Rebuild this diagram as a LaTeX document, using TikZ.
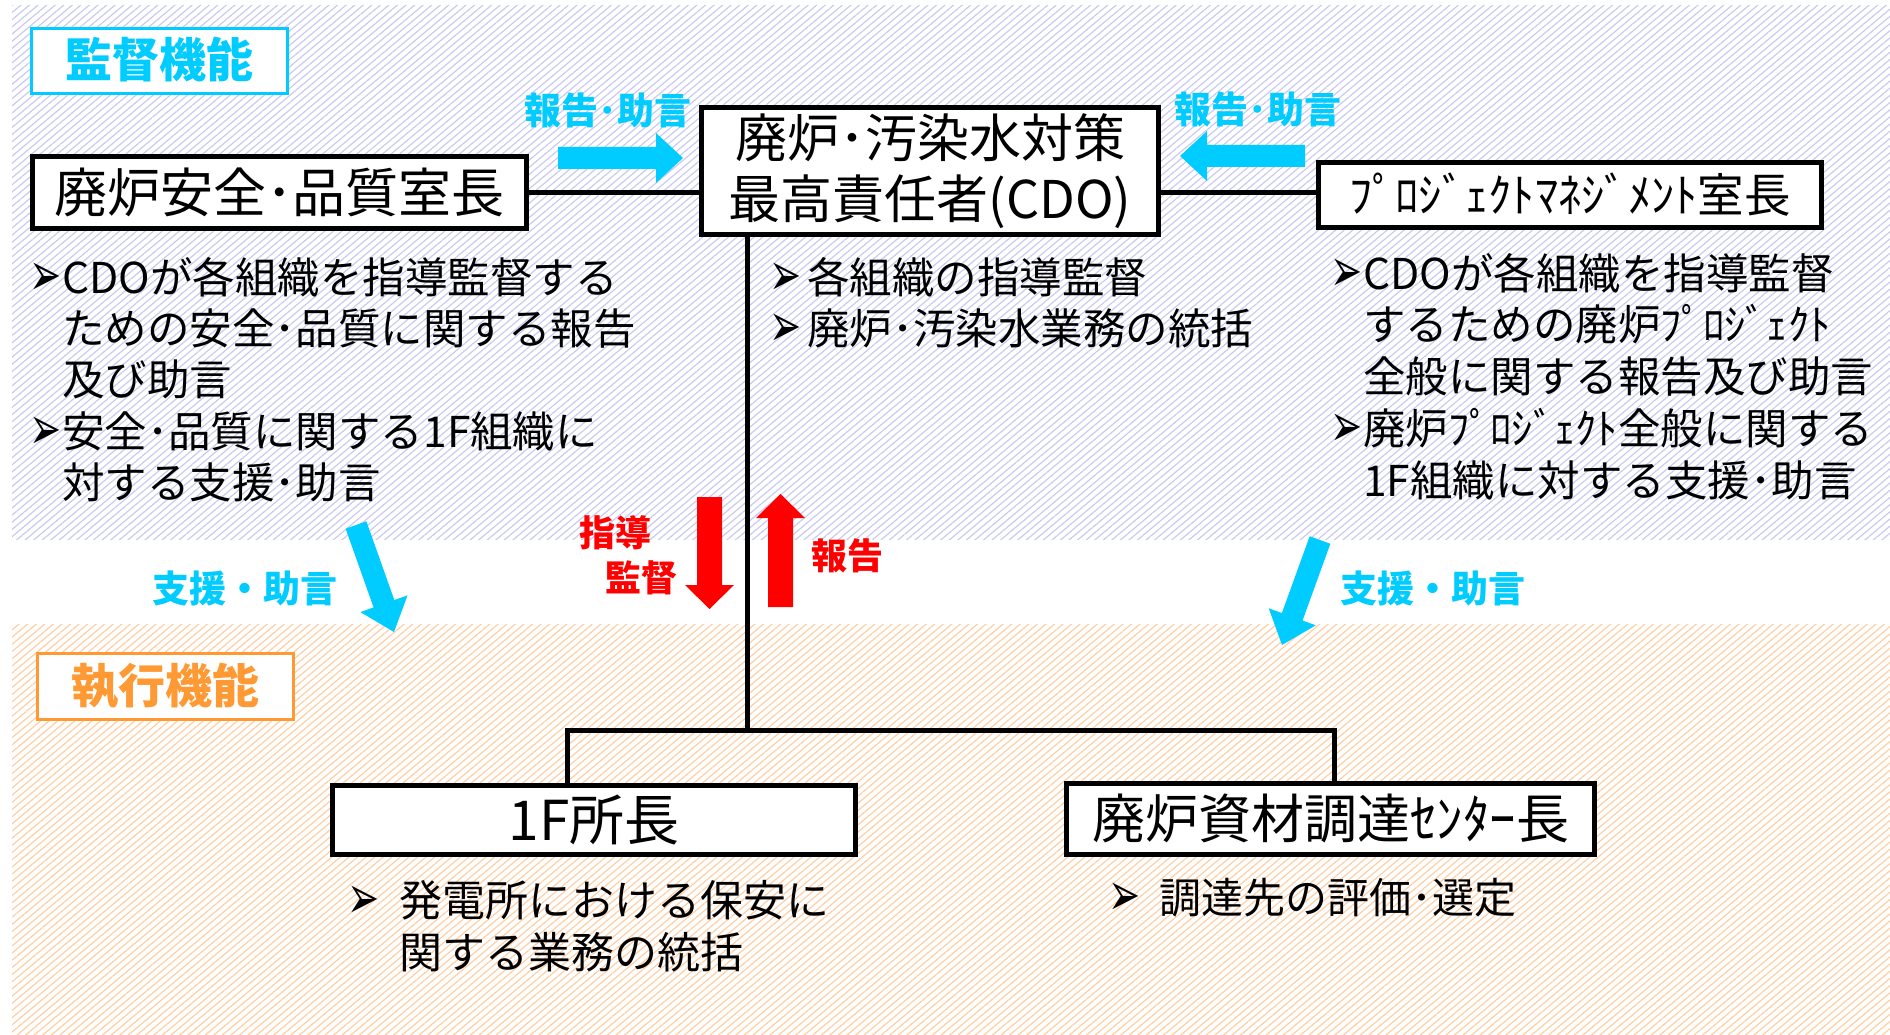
\documentclass[tikz,border=0pt]{standalone}
\usepackage{fontspec}
\setmainfont{Noto Sans CJK JP}
\newfontfamily\dejavu{DejaVu Sans}
\usetikzlibrary{patterns.meta}
\definecolor{cyanc}{RGB}{0,204,255}
\definecolor{orangec}{RGB}{255,153,51}
\definecolor{redc}{RGB}{255,0,0}
\definecolor{hatchb}{RGB}{200,200,242}
\definecolor{hatcho}{RGB}{255,205,160}
\newcommand\bmk[1][33pt]{\makebox[#1][l]{\raisebox{-2pt}{\scalebox{1.2}[1.9]{\dejavu\fontsize{32}{32}\selectfont ➢}}}}
\newcommand\bind[1][33pt]{\hspace*{#1}}
\tikzset{
  box/.style={draw, line width=5pt, fill=white, inner sep=0pt, align=center},
  headbox/.style={line width=3pt, fill=white, inner sep=0pt, minimum width=256, font=\bfseries\fontsize{47}{47}\selectfont},
  bullets/.style={anchor=north west, inner sep=0pt, align=left},
  lblc/.style={inner sep=0pt, text=cyanc, font=\bfseries\fontsize{37}{37}\selectfont},
  lblcs/.style={inner sep=0pt, text=cyanc, font=\bfseries\fontsize{37}{37}\selectfont},
  lblr/.style={inner sep=0pt, text=redc, font=\bfseries\fontsize{36}{36}\selectfont},
  conn/.style={line width=5pt, black},
}
\begin{document}
\begin{tikzpicture}[x=1pt,y=-1pt]
\useasboundingbox (0,0) rectangle (1890,1035);
\fill[white] (0,0) rectangle (1890,1035);
% hatched regions
\fill[pattern={Lines[angle=40,distance=5.5pt,line width=1.15pt]}, pattern color=hatchb] (12,6) rectangle (1890,539);
\fill[pattern={Lines[angle=40,distance=5.5pt,line width=1.15pt]}, pattern color=hatcho] (12,624) rectangle (1890,1035);

% cyan arrows
\fill[cyanc] (558,147) -- (656,147) -- (656,133) -- (683,158) -- (656,183) -- (656,169) -- (558,169) -- cycle;
\fill[cyanc] (1305,145) -- (1207,145) -- (1207,131) -- (1180,156) -- (1207,181) -- (1207,167) -- (1305,167) -- cycle;
\fill[cyanc] (345.63,528.68) -- (366.37,521.32) -- (394.33,600.04) -- (407.53,595.35) -- (394,632) -- (360.39,612.09) -- (373.59,607.40) -- cycle;
\fill[cyanc] (1330.34,543.74) -- (1309.66,536.26) -- (1281.87,613.06) -- (1268.71,608.30) -- (1282,645) -- (1315.71,625.31) -- (1302.55,620.54) -- cycle;
% red arrows
\fill[redc] (697,497) -- (722,497) -- (722,585) -- (734,585) -- (709.5,609) -- (685,585) -- (697,585) -- cycle;
\fill[redc] (768,607) -- (793,607) -- (793,518) -- (805,518) -- (780.5,494) -- (756,518) -- (768,518) -- cycle;

% boxes
\node[box, minimum width=494, minimum height=72, font=\fontsize{53}{60}\selectfont] (L) at (279.5,192.5) {廃炉安全･品質室長};
\node[box, minimum width=457, minimum height=127, font=\fontsize{52}{61}\selectfont] (CDO) at (930,171) {廃炉･汚染水対策\\最高責任者(CDO)};
\node[box, minimum width=503, minimum height=65, font=\fontsize{46.5}{56}\selectfont] (R) at (1570,195) {ﾌﾟﾛｼﾞｪｸﾄﾏﾈｼﾞﾒﾝﾄ室長};
\node[box, minimum width=523, minimum height=69, font=\fontsize{55}{60}\selectfont] (F1) at (594,820) {1F所長};
\node[box, minimum width=528, minimum height=71, font=\fontsize{53}{62}\selectfont] (P) at (1330.5,819) {廃炉資材調達ｾﾝﾀｰ長};

% connectors
\coordinate (jc) at (747,730);
\coordinate (jl) at (567,730);
\coordinate (jr) at (1334,730);
\draw[conn] (L.east) -- (L.east -| CDO.west);
\draw[conn] (CDO.east |- L.east) -- (R.west |- L.east);
\draw[conn] (CDO.south -| jc) -- (jc);
\draw[conn] (F1.north -| jl) -- (jl) -- (jr) -- (P.north -| jr);

% heading boxes
\node[headbox, draw=cyanc, text=cyanc, minimum height=65] (kan) at (159.5,61) {\raisebox{7pt}{監督機能}};
\node[headbox, draw=orangec, text=orangec, minimum height=66] (shi) at (165.5,686.5) {\raisebox{5pt}{執行機能}};

% labels
\node[lblc] (h1) at (608,110) {報告･助言};
\node[lblc] (h2) at (1258,109) {報告･助言};
\node[lblcs] (s1) at (245,588) {支援・助言};
\node[lblcs] (s2) at (1433,588) {支援・助言};
\node[lblr] (sd1) at (615,533) {指導};
\node[lblr] (sd2) at (641,578) {監督};
\node[lblr] (hk) at (847,556) {報告};

% bullet texts
\node[bullets, font=\fontsize{42.5}{51.3}\selectfont] (bl) at (29,257) {\bmk CDOが各組織を指導監督する\\\bind ための安全･品質に関する報告\\\bind 及び助言\\\bmk 安全･品質に関する1F組織に\\\bind 対する支援･助言};
\node[bullets, font=\fontsize{42.5}{51.3}\selectfont] (bm) at (769,257) {\bmk[38pt]各組織の指導監督\\\bmk[38pt]廃炉･汚染水業務の統括};
\node[bullets, font=\fontsize{42.5}{51.7}\selectfont] (br) at (1330,253) {\bmk CDOが各組織を指導監督\\\bind するための廃炉ﾌﾟﾛｼﾞｪｸﾄ\\\bind 全般に関する報告及び助言\\\bmk 廃炉ﾌﾟﾛｼﾞｪｸﾄ全般に関する\\\bind 1F組織に対する支援･助言};
\node[bullets, font=\fontsize{43}{52}\selectfont] (bf) at (347,880) {\bmk[52pt]発電所における保安に\\\bind[52pt]関する業務の統括};
\node[bullets, font=\fontsize{42}{50}\selectfont] (bp) at (1108,878) {\bmk[51pt]調達先の評価･選定};
\end{tikzpicture}
\end{document}
